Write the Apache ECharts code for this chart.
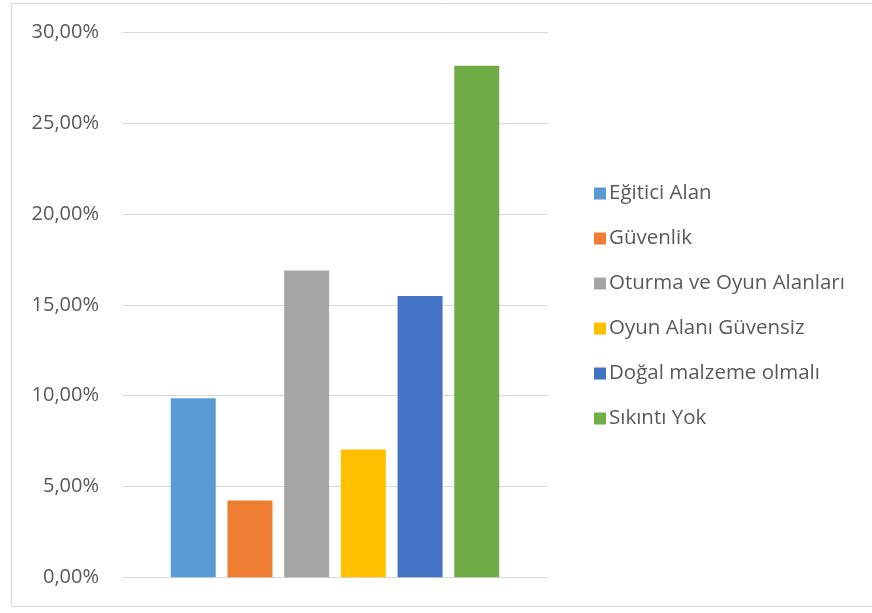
<!DOCTYPE html>
<html>
<head>
<meta charset="utf-8">
<script src="https://cdn.jsdelivr.net/npm/echarts@6/dist/echarts.min.js"></script>
<style>
  html, body { margin: 0; padding: 0; background: #ffffff; }
  #chart { width: 872px; height: 613px; }
</style>
</head>
<body>
<div id="chart"></div>
<script>
// Survey answers (share of respondents, %)
const seriesNames = ['Eğitici Alan', 'Güvenlik', 'Oturma ve Oyun Alanları', 'Oyun Alanı Güvensiz', 'Doğal malzeme olmalı', 'Sıkıntı Yok'];
const seriesValues = [9.86, 4.23, 16.90, 7.04, 15.49, 28.17];
const seriesColors = ['#5B9BD5', '#ED7D31', '#A5A5A5', '#FFC000', '#4472C4', '#70AD47'];
const categories = [''];
const yTicks = { min: 0, max: 30, interval: 5 };

const fontFamily = '"Open Sans", "Noto Sans", sans-serif';

const chart = echarts.init(document.getElementById('chart'), null, { renderer: 'canvas' });

const series = seriesNames.map((name, i) => ({
  name: name,
  type: 'bar',
  data: [seriesValues[i]],
  barWidth: 45,
  barGap: '26%',
  itemStyle: { color: seriesColors[i] },
  emphasis: { disabled: true }
}));

chart.setOption({
  backgroundColor: '#ffffff',
  animation: false,
  graphic: [{
    type: 'rect',
    shape: { x: 11.5, y: 3.5, width: 880, height: 603 },
    style: { fill: 'none', stroke: '#d9d9d9', lineWidth: 1 },
    silent: true,
    z: -1
  }],
  grid: { left: 122, right: 324, top: 32.5, bottom: 35.7, containLabel: false },
  xAxis: {
    type: 'category',
    data: categories,
    axisLine: { show: true, lineStyle: { color: '#d9d9d9', width: 1 } },
    axisTick: { show: false },
    axisLabel: { show: false }
  },
  yAxis: {
    type: 'value',
    min: yTicks.min,
    max: yTicks.max,
    interval: yTicks.interval,
    axisLine: { show: false },
    axisTick: { show: false },
    splitLine: { lineStyle: { color: '#d9d9d9', width: 1 } },
    axisLabel: {
      margin: 23,
      color: '#595959',
      fontFamily: fontFamily,
      fontSize: 20,
      formatter: v => v.toFixed(2).replace('.', ',') + '%'
    }
  },
  legend: {
    orient: 'vertical',
    left: 589,
    top: 178,
    itemWidth: 12,
    itemHeight: 12,
    itemGap: 24,
    icon: 'rect',
    selectedMode: false,
    textStyle: { color: '#595959', fontFamily: fontFamily, fontSize: 20.5, padding: [0, 0, 0, -2] },
    data: seriesNames
  },
  series: series
});
</script>
</body>
</html>
